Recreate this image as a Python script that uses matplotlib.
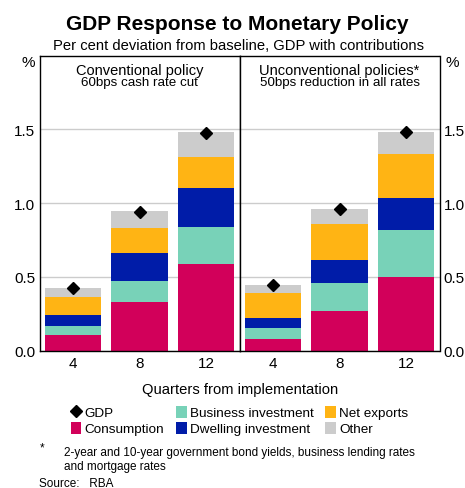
import matplotlib.pyplot as plt
import numpy as np

plt.rcParams['font.family'] = ['Liberation Sans', 'DejaVu Sans']

quarters = ['4', '8', '12']
components = ['Consumption', 'Business investment', 'Dwelling investment', 'Net exports', 'Other']
colors = ['#d2005a', '#78d2b8', '#001ca8', '#ffb414', '#cccccc']

# contributions (ppt), per panel, rows = components, cols = quarters
conv = {
    'Consumption': [0.108, 0.327, 0.587],
    'Business investment': [0.057, 0.143, 0.252],
    'Dwelling investment': [0.079, 0.189, 0.262],
    'Net exports': [0.117, 0.173, 0.214],
    'Other': [0.063, 0.115, 0.167],
}
conv_gdp = [0.424, 0.943, 1.477]

unconv = {
    'Consumption': [0.079, 0.267, 0.501],
    'Business investment': [0.075, 0.193, 0.316],
    'Dwelling investment': [0.067, 0.156, 0.221],
    'Net exports': [0.167, 0.243, 0.295],
    'Other': [0.059, 0.104, 0.151],
}
unconv_gdp = [0.445, 0.961, 1.482]

panel_titles = [('Conventional policy', '60bps cash rate cut'),
                ('Unconventional policies*', '50bps reduction in all rates')]

fig = plt.figure(figsize=(4.65, 4.89), dpi=100)
W, H = 465, 489
ax_l = 39.5 / W
ax_b = (H - 351.7) / H
ax_w = 200 / W
ax_h = 295 / H
ax1 = fig.add_axes([ax_l, ax_b, ax_w, ax_h])
ax2 = fig.add_axes([ax_l + ax_w, ax_b, ax_w, ax_h])

x = np.arange(len(quarters))
handles = {}
for ax, data, gdp, (t1, t2) in [(ax1, conv, conv_gdp, panel_titles[0]),
                                (ax2, unconv, unconv_gdp, panel_titles[1])]:
    bottom = np.zeros(len(quarters))
    for comp, col in zip(components, colors):
        vals = np.array(data[comp])
        b = ax.bar(x, vals, 0.85, bottom=bottom, color=col, zorder=2, label=comp)
        handles[comp] = b
        bottom += vals
    m, = ax.plot(x, gdp, 'D', color='black', markersize=6, zorder=3, label='GDP')
    handles['GDP'] = m
    ax.set_xlim(-0.5, 2.5)
    ax.set_ylim(0, 2.0)
    ax.set_yticks([0, 0.5, 1.0, 1.5])
    ax.set_yticklabels(['0.0', '0.5', '1.0', '1.5'])
    ax.grid(axis='y', color='#cccccc', linewidth=1, zorder=0)
    ax.set_axisbelow(True)
    ax.set_xticks(x)
    ax.set_xticklabels(quarters)
    ax.tick_params(length=0, labelsize=11, pad=4)
    for s in ax.spines.values():
        s.set_color('black')
        s.set_linewidth(1)
    ax.text(0.5, 0.951, t1, transform=ax.transAxes, ha='center', va='center', fontsize=10.5)
    ax.text(0.5, 0.91, t2, transform=ax.transAxes, ha='center', va='center', fontsize=9.6)

ax2.yaxis.tick_right()
ax1.tick_params(axis='y', pad=3)
ax2.tick_params(axis='y', pad=3)

fig.text(28 / W, 1 - 63 / H, '%', ha='center', va='center', fontsize=11)
fig.text(452 / W, 1 - 63 / H, '%', ha='center', va='center', fontsize=11)

fig.text(237.5 / W, 1 - 24.5 / H, 'GDP Response to Monetary Policy', ha='center', va='center',
         fontsize=15.0, fontweight='bold')
fig.text(238.5 / W, 1 - 46 / H, 'Per cent deviation from baseline, GDP with contributions',
         ha='center', va='center', fontsize=10.6)
fig.text(240.5 / W, 1 - 390 / H, 'Quarters from implementation', ha='center', va='center',
         fontsize=10.6)

order = ['GDP', 'Consumption', 'Business investment', 'Dwelling investment', 'Net exports', 'Other']
fig.legend([handles[k] for k in order], order, ncol=3, loc='center',
           bbox_to_anchor=(239.5 / W, 1 - 421.5 / H), frameon=False, fontsize=9.7,
           handlelength=0.8, handleheight=1.0, handletextpad=0.25, columnspacing=0.85,
           labelspacing=0.18, borderpad=0)

fig.text(40 / W, 1 - 448 / H, '*', ha='left', va='center', fontsize=8.5)
fig.text(64 / W, 1 - 453 / H, '2-year and 10-year government bond yields, business lending rates',
         ha='left', va='center', fontsize=8.5)
fig.text(64 / W, 1 - 467 / H, 'and mortgage rates', ha='left', va='center', fontsize=8.5)
fig.text(39 / W, 1 - 484.5 / H, 'Source:   RBA', ha='left', va='center', fontsize=8.5)

fig.savefig('out.png', dpi=100)
